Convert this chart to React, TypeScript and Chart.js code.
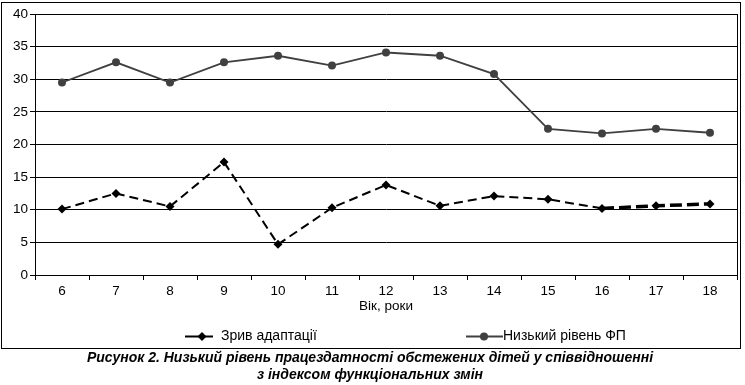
import React, { useEffect, useRef } from "react";
import { Chart, registerables } from "chart.js";

Chart.register(...registerables);

const ages = ["6", "7", "8", "9", "10", "11", "12", "13", "14", "15", "16", "17", "18"];
const adaptationFailure = [10.1, 12.5, 10.5, 17.3, 4.7, 10.3, 13.8, 10.6, 12.1, 11.6, 10.2, 10.6, 10.9];
const lowFP = [29.5, 32.6, 29.5, 32.6, 33.6, 32.1, 34.1, 33.6, 30.8, 22.4, 21.7, 22.4, 21.8];
const seriesNames = ["Зрив адаптації", "Низький рівень ФП"];
const xTitle = "Вік, роки";
const captionLines = [
  "Рисунок 2. Низький рівень працездатності обстежених дітей у співвідношенні",
  "з індексом функціональних змін",
];

const FONT = "'Liberation Sans', Arial, sans-serif";
const GRAY = "#404040";

const framePlugin = {
  id: "frame",
  afterDraw(chart: any) {
    const { ctx, chartArea } = chart;
    ctx.save();
    ctx.strokeStyle = "#000";
    ctx.lineWidth = 1;
    ctx.setLineDash([]);
    // outer box
    ctx.strokeRect(1.5, 2.5, 739, 346);
    // right border of plot
    ctx.beginPath();
    ctx.moveTo(Math.round(chartArea.right) + 0.5, chartArea.top);
    ctx.lineTo(Math.round(chartArea.right) + 0.5, chartArea.bottom);
    ctx.stroke();

    // custom legend
    const y = 336.5;
    ctx.font = "14px " + FONT;
    ctx.textBaseline = "middle";
    ctx.fillStyle = "#000";
    // item 1
    ctx.strokeStyle = "#000";
    ctx.lineWidth = 2;
    ctx.beginPath();
    ctx.moveTo(185, y);
    ctx.lineTo(213, y);
    ctx.stroke();
    ctx.beginPath();
    ctx.moveTo(202, y - 4.5);
    ctx.lineTo(206.5, y);
    ctx.lineTo(202, y + 4.5);
    ctx.lineTo(197.5, y);
    ctx.closePath();
    ctx.fill();
    ctx.textAlign = "left";
    ctx.fillText(seriesNames[0], 221, y);
    // item 2
    ctx.strokeStyle = GRAY;
    ctx.fillStyle = GRAY;
    ctx.lineWidth = 2;
    ctx.beginPath();
    ctx.moveTo(466, y);
    ctx.lineTo(503, y);
    ctx.stroke();
    ctx.beginPath();
    ctx.arc(484, y, 4, 0, Math.PI * 2);
    ctx.fill();
    ctx.fillStyle = "#000";
    ctx.fillText(seriesNames[1], 503, y);
    ctx.restore();
  },
};

export default function App() {
  const ref = useRef<HTMLCanvasElement | null>(null);

  useEffect(() => {
    document.body.style.margin = "0";
    const canvas = ref.current;
    if (!canvas) return;
    const chart = new Chart(canvas, {
      type: "line",
      data: {
        labels: ages,
        datasets: [
          {
            label: seriesNames[0],
            data: adaptationFailure,
            borderColor: "#000",
            backgroundColor: "#000",
            borderWidth: 2,
            borderDash: [9, 5],
            pointStyle: "rectRot",
            pointRadius: 4.5,
            pointBackgroundColor: "#000",
            pointBorderWidth: 0,
            tension: 0,
            segment: {
              borderWidth: (c: any) => (c.p0DataIndex >= 10 ? 3.5 : 2),
              borderDash: (c: any) => (c.p0DataIndex >= 10 ? [12, 5] : [9, 5]),
            },
          },
          {
            label: seriesNames[1],
            data: lowFP,
            borderColor: GRAY,
            backgroundColor: GRAY,
            borderWidth: 1.8,
            pointStyle: "circle",
            pointRadius: 4,
            pointBackgroundColor: GRAY,
            pointBorderWidth: 0,
            tension: 0,
          },
        ],
      },
      options: {
        animation: false,
        responsive: false,
        events: [],
        layout: { padding: { top: 14, right: 8, bottom: 35, left: 0 } },
        plugins: {
          legend: { display: false },
          tooltip: { enabled: false },
        },
        scales: {
          x: {
            type: "category",
            offset: true,
            grid: {
              offset: true,
              drawOnChartArea: false,
              drawTicks: true,
              tickLength: 5,
              color: "#000",
            },
            border: { color: "#000", width: 1 },
            ticks: { color: "#000", font: { family: FONT, size: 13.5 }, padding: 3, maxRotation: 0 },
            title: {
              display: true,
              text: xTitle,
              color: "#000",
              font: { family: FONT, size: 13.5 },
              padding: { top: 0, bottom: 1 },
            },
            afterFit: (s: any) => {
              s.height = 40;
            },
          },
          y: {
            min: 0,
            max: 40,
            ticks: {
              stepSize: 5,
              color: "#000",
              font: { family: FONT, size: 13.5 },
              padding: 2,
            },
            grid: { color: "#000", lineWidth: 1, tickLength: 5 },
            border: { color: "#000", width: 1 },
            afterFit: (s: any) => {
              s.width = 35;
            },
          },
        },
      },
      plugins: [framePlugin],
    });
    return () => chart.destroy();
  }, []);

  return (
    <div style={{ position: "relative", width: 745, height: 385, background: "#fff" }}>
      <canvas ref={ref} width={745} height={350} style={{ position: "absolute", left: 0, top: 0 }} />
      <div
        style={{
          position: "absolute",
          left: 0,
          top: 349,
          width: 740,
          textAlign: "center",
          fontFamily: FONT,
          fontSize: 14,
          fontWeight: "bold",
          fontStyle: "italic",
          lineHeight: "17px",
          color: "#000",
        }}
      >
        {captionLines.map((l, i) => (
          <div key={i}>{l}</div>
        ))}
      </div>
    </div>
  );
}
